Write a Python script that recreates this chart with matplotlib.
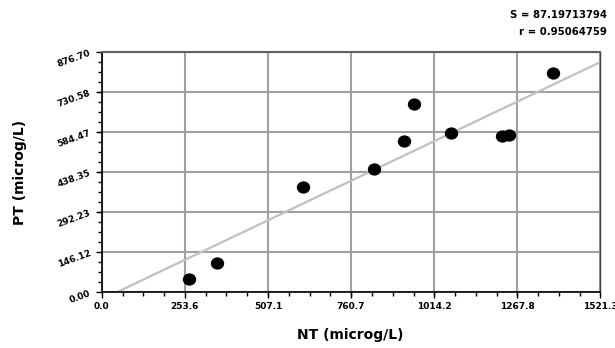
import matplotlib
matplotlib.use("Agg")
import matplotlib.pyplot as plt
import numpy as np
from matplotlib.ticker import FixedLocator, AutoMinorLocator
from matplotlib.path import Path
from matplotlib.transforms import Affine2D

plt.rcParams['font.family'] = ['DejaVu Sans']

# Data
nt = [266.7, 351.9, 613.8, 832.0, 923.4, 953.8, 1066.5, 1219.6, 1242.1, 1377.9]
pt = [48.6, 105.9, 383.6, 449.3, 552.7, 685.3, 580.8, 571.0, 573.5, 800.0]

# Regression line
fit_slope = 0.5694
fit_intercept = -26.0

x_ticks = [0.0, 253.6, 507.1, 760.7, 1014.2, 1267.8, 1521.3]
x_tick_labels = ["0.0", "253.6", "507.1", "760.7", "1014.2", "1267.8", "1521.3"]
y_ticks = [0.00, 146.12, 292.23, 438.35, 584.47, 730.58, 876.70]
y_tick_labels = ["0.00", "146.12", "292.23", "438.35", "584.47", "730.58", "876.70"]

stats_lines = ["S = 87.19713794", "r = 0.95064759"]

fig = plt.figure(figsize=(6.15, 3.48), dpi=100)
ax = fig.add_axes([0.1654, 0.1601, 0.811, 0.6904])

ax.set_xlim(x_ticks[0], x_ticks[-1])
ax.set_ylim(y_ticks[0], y_ticks[-1])

ax.xaxis.set_major_locator(FixedLocator(x_ticks))
ax.yaxis.set_major_locator(FixedLocator(y_ticks))
ax.set_xticklabels(x_tick_labels, fontsize=6.5, fontweight='bold')
ax.set_yticklabels(y_tick_labels, fontsize=6.5, fontweight='bold', rotation=20)
ax.xaxis.set_minor_locator(AutoMinorLocator(4))
ax.yaxis.set_minor_locator(AutoMinorLocator(4))

ax.tick_params(axis='both', which='major', direction='out', length=4, width=1, color='black', pad=3)
ax.tick_params(axis='both', which='minor', direction='out', length=3, width=1, color='black')

ax.grid(True, which='major', color='#a0a0a0', linewidth=1.5, zorder=0)
ax.set_axisbelow(True)

for side in ['left', 'bottom']:
    ax.spines[side].set_color('black')
    ax.spines[side].set_linewidth(1.2)
ax.spines['top'].set_color('#606060')
ax.spines['top'].set_linewidth(1.5)
ax.spines['right'].set_color('#404040')
ax.spines['right'].set_linewidth(1.0)

xl = np.array([x_ticks[0], x_ticks[-1]])
ax.plot(xl, fit_slope * xl + fit_intercept, color='#c0c0c0', linewidth=1.6, zorder=2)

ellipse = Path.unit_circle().transformed(Affine2D().scale(1.1, 1.0))
ax.plot(nt, pt, linestyle='none', marker=ellipse, markersize=8.6, color='black', zorder=3)

ax.set_xlabel("NT (microg/L)", fontsize=10, fontweight='bold')
ax.set_ylabel("PT (microg/L)", fontsize=10, fontweight='bold')
ax.xaxis.set_label_coords(350/615, 1 - 335/348, transform=fig.transFigure)
ax.yaxis.set_label_coords(20/615, 1 - 172/348, transform=fig.transFigure)
ax.xaxis.label.set_va('center')
ax.yaxis.label.set_va('center')

fig.text(607/615, 1 - 15/348, stats_lines[0], ha='right', va='center', fontsize=7.3, fontweight='bold')
fig.text(607/615, 1 - 32/348, stats_lines[1], ha='right', va='center', fontsize=7.3, fontweight='bold')

fig.savefig("out.png", dpi=100)
